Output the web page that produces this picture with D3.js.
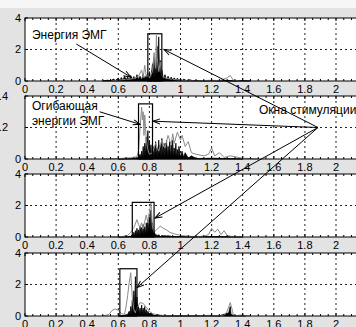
<!DOCTYPE html>
<html>
<head>
<meta charset="utf-8">
<script src="https://cdn.jsdelivr.net/npm/d3@7"></script>
<style>
  body { margin: 0; background: #e3e3e3; overflow: hidden; }
  text { font-family: Arial, "Liberation Sans", sans-serif; fill: #000; }
</style>
</head>
<body>
<svg id="chart" width="356" height="327"></svg>
<script>
// x axis (time, s)
const xTicks = [0, 0.2, 0.4, 0.6, 0.8, 1, 1.2, 1.4, 1.6, 1.8, 2];
const xTickLabels = ['0', '0.2', '0.4', '0.6', '0.8', '1', '1.2', '1.4', '1.6', '1.8', '2'];

// y axes of the four panels
const yMax = [4, 0.4, 4, 4];
const yTicks = [[0, 2, 4], [0, 0.2, 0.4], [0, 2, 4], [0, 2, 4]];
const yTickLabels = [['0', '2', '4'], ['0', '0.2', '0.4'], ['0', '2', '4'], ['0', '2', '4']];

// panel 1: EMG energy
const p1Black = [[0.5,0],[0.53,0.05],[0.55,0.02],[0.57,0.12],[0.58,0.03],[0.6,0.18],[0.61,0.05],[0.62,0.22],[0.63,0.04],[0.64,0.3],[0.65,0.08],[0.66,0.25],[0.67,0.05],[0.68,0.35],[0.69,0.1],[0.7,0.28],[0.71,0.06],[0.72,0.4],[0.73,0.1],[0.74,0.3],[0.75,0.05],[0.76,0.45],[0.77,0.12],[0.78,0.35],[0.79,0.08],[0.8,0.6],[0.81,0.15],[0.82,1.1],[0.825,0.2],[0.83,1.5],[0.835,0.3],[0.84,0.9],[0.845,0.2],[0.85,2.2],[0.855,0.4],[0.86,2.8],[0.865,0.3],[0.87,1.3],[0.875,0.2],[0.88,0.7],[0.89,0.1],[0.9,0.4],[0.91,0.05],[0.92,0.3],[0.93,0.06],[0.94,0.25],[0.95,0.04],[0.96,0.2],[0.97,0.05],[0.98,0.18],[0.99,0.03],[1,0.15],[1.01,0.02],[1.02,0.12],[1.04,0.02],[1.06,0.08],[1.08,0.01],[1.1,0.04],[1.15,0],[1.2,0.03],[1.25,0],[1.3,0.04],[1.35,0],[1.4,0.02],[1.45,0]];
const p1Gray = [[0.55,0],[0.6,0.05],[0.65,0.1],[0.7,0.15],[0.73,0.3],[0.75,0.7],[0.76,0.2],[0.77,1.0],[0.78,0.3],[0.79,0.5],[0.8,0.2],[0.82,0.6],[0.83,1.8],[0.84,0.8],[0.845,2.9],[0.85,1.5],[0.86,0.6],[0.87,1.2],[0.88,0.3],[0.9,0.2],[0.95,0.1],[1,0.05],[1.1,0],[1.2,0.05],[1.25,0.02],[1.3,0.2],[1.32,0.35],[1.34,0.05],[1.38,0]];

// panel 2: EMG energy envelope
const p2Black = [[0.6,0],[0.7,0.003],[0.72,0.01],[0.73,0.005],[0.74,0.03],[0.745,0.005],[0.75,0.05],[0.755,0.01],[0.76,0.08],[0.765,0.01],[0.77,0.1],[0.775,0.02],[0.78,0.14],[0.785,0.03],[0.79,0.18],[0.795,0.04],[0.8,0.12],[0.805,0.02],[0.81,0.09],[0.815,0.01],[0.82,0.06],[0.825,0.01],[0.83,0.08],[0.835,0.01],[0.84,0.11],[0.845,0.02],[0.85,0.07],[0.855,0.01],[0.86,0.12],[0.865,0.02],[0.87,0.09],[0.875,0.01],[0.88,0.13],[0.885,0.02],[0.89,0.08],[0.895,0.01],[0.9,0.1],[0.905,0.02],[0.91,0.12],[0.915,0.01],[0.92,0.08],[0.925,0.02],[0.93,0.11],[0.935,0.01],[0.94,0.09],[0.945,0.02],[0.95,0.12],[0.955,0.01],[0.96,0.07],[0.965,0.02],[0.97,0.1],[0.975,0.01],[0.98,0.06],[0.985,0.01],[0.99,0.08],[1,0.01],[1.01,0.05],[1.02,0.01],[1.03,0.04],[1.05,0.005],[1.07,0.02],[1.1,0.003],[1.2,0.005],[1.3,0.003],[1.4,0]];
const p2Gray = [[0.5,0],[0.6,0.003],[0.68,0.008],[0.72,0.015],[0.73,0.05],[0.74,0.2],[0.75,0.33],[0.755,0.25],[0.76,0.3],[0.765,0.15],[0.77,0.28],[0.78,0.12],[0.79,0.06],[0.8,0.03],[0.82,0.04],[0.84,0.1],[0.86,0.05],[0.88,0.12],[0.9,0.07],[0.92,0.15],[0.94,0.09],[0.95,0.16],[0.96,0.1],[0.98,0.17],[1,0.12],[1.01,0.15],[1.03,0.08],[1.05,0.11],[1.07,0.04],[1.1,0.03],[1.15,0.02],[1.18,0.03],[1.2,0.07],[1.22,0.02],[1.25,0.04],[1.28,0.01],[1.32,0.02],[1.4,0.005],[1.5,0]];

// panel 3
const p3Black = [[0.6,0],[0.66,0.02],[0.68,0.05],[0.69,0.15],[0.695,0.03],[0.7,0.3],[0.705,0.05],[0.71,0.4],[0.715,0.08],[0.72,0.55],[0.725,0.1],[0.73,0.45],[0.735,0.08],[0.74,0.7],[0.745,0.15],[0.75,0.6],[0.755,0.1],[0.76,0.8],[0.765,0.2],[0.77,0.65],[0.775,0.15],[0.78,0.9],[0.785,0.2],[0.79,1.1],[0.795,0.3],[0.8,1.3],[0.805,0.25],[0.81,1.7],[0.815,0.3],[0.82,0.9],[0.825,0.1],[0.83,0.4],[0.835,0.05],[0.84,0.2],[0.85,0.03],[0.86,0.15],[0.87,0.02],[0.88,0.1],[0.9,0.05],[0.92,0.08],[0.95,0.02],[1,0.03],[1.05,0.01],[1.1,0.02],[1.2,0.03],[1.3,0.02],[1.4,0]];
const p3Gray = [[0.55,0],[0.62,0.02],[0.66,0.1],[0.68,0.3],[0.7,0.6],[0.72,1.1],[0.73,0.8],[0.74,0.6],[0.75,0.9],[0.76,0.5],[0.77,1.0],[0.78,1.4],[0.79,0.9],[0.8,1.6],[0.81,2.2],[0.815,1.4],[0.82,0.6],[0.83,0.3],[0.85,0.5],[0.87,0.7],[0.89,0.55],[0.91,0.45],[0.93,0.3],[0.96,0.2],[1,0.1],[1.05,0.05],[1.1,0.03],[1.15,0.05],[1.18,0.15],[1.2,0.55],[1.22,0.3],[1.24,0.5],[1.26,0.15],[1.28,0.4],[1.3,0.1],[1.33,0.03],[1.4,0]];

// panel 4
const p4Black = [[0.6,0],[0.63,0.02],[0.65,0.05],[0.66,0.1],[0.67,0.3],[0.675,0.05],[0.68,0.6],[0.685,0.1],[0.69,1.0],[0.695,0.2],[0.7,1.6],[0.705,0.4],[0.71,2.5],[0.715,0.5],[0.72,1.2],[0.725,0.2],[0.73,0.6],[0.735,0.1],[0.74,0.5],[0.745,0.1],[0.75,0.7],[0.755,0.15],[0.76,0.5],[0.765,0.1],[0.77,0.6],[0.775,0.1],[0.78,0.4],[0.785,0.05],[0.79,0.3],[0.8,0.05],[0.81,0.2],[0.83,0.03],[0.85,0.08],[0.88,0.01],[0.95,0],[1.1,0.02],[1.2,0.04],[1.25,0.01],[1.31,0.2],[1.32,0.6],[1.325,0.1],[1.35,0.02],[1.4,0.05],[1.42,0]];
const p4Gray = [[0.5,0],[0.54,0.1],[0.56,0.35],[0.58,0.45],[0.6,0.35],[0.62,0.15],[0.64,0.1],[0.65,0.6],[0.66,1.3],[0.67,2.1],[0.68,2.75],[0.69,1.2],[0.7,0.4],[0.71,0.2],[0.72,0.5],[0.74,0.85],[0.76,0.8],[0.78,0.55],[0.8,0.3],[0.82,0.15],[0.85,0.08],[0.9,0.02],[0.95,0],[1.2,0.02],[1.28,0.03],[1.3,0.3],[1.32,0.85],[1.335,0.3],[1.34,0.02],[1.4,0.05],[1.45,0]];

const blackTraces = [p1Black, p2Black, p3Black, p4Black];
const grayTraces = [p1Gray, p2Gray, p3Gray, p4Gray];

// stimulation windows
const windowStart = [0.79, 0.73, 0.69, 0.61];
const windowEnd = [0.88, 0.82, 0.83, 0.72];
const windowTop = [3.0, 0.35, 2.2, 3.0];

// annotations: [panel, t, value]
const windowArrowTips = [[0, 0.894, 2.0], [1, 0.823, 0.24], [2, 0.836, 1.2], [3, 0.72, 1.8]];
const hub = [1, 1.884, 0.2];
const windowLabel = [1, 1.505, 0.286, 'Окна стимуляции'];
const energyLabel = [0, 0.045, 2.67, 'Энергия ЭМГ'];
const energyArrow = [[0, 0.33, 2.35], [0, 0.68, 0.25]];
const envelopeLabel = [[1, 0.045, 0.31, 'Огибающая'], [1, 0.045, 0.215, 'энергии ЭМГ']];
const envelopeArrow = [[1, 0.48, 0.3], [1, 0.74, 0.22]];

// layout
const panelTop = [18, 96, 174, 253];
const panelH = 63;
const svg = d3.select('#chart');

svg.append('rect').attr('width', 356).attr('height', 8).attr('fill', '#f6f6f6');

const x = d3.scaleLinear().domain([0, 2.2]).range([25, 25 + 2.2 * 155.5]);
const yScales = [];

const defs = svg.append('defs');
defs.append('marker')
  .attr('id', 'arrow')
  .attr('viewBox', '-8 -4 9 8')
  .attr('refX', 0).attr('refY', 0)
  .attr('markerWidth', 9).attr('markerHeight', 8)
  .attr('markerUnits', 'userSpaceOnUse')
  .attr('orient', 'auto')
  .append('path')
  .attr('d', 'M-7,-2.6L0,0L-7,2.6')
  .attr('fill', 'none')
  .attr('stroke', '#000')
  .attr('stroke-width', 1);

yMax.forEach((ym, i) => {
  const top = panelTop[i];
  const bottom = top + panelH;
  const y = d3.scaleLinear().domain([0, ym]).range([bottom, top]);
  yScales.push(y);
  const g = svg.append('g');

  g.append('rect')
    .attr('x', x(0)).attr('y', top)
    .attr('width', x(2.2) - x(0)).attr('height', panelH)
    .attr('fill', '#fff');

  // dotted grid
  g.selectAll('line.vgrid').data(xTicks.filter((t) => t > 0)).enter().append('line')
    .attr('class', 'vgrid')
    .attr('x1', (d) => x(d)).attr('x2', (d) => x(d))
    .attr('y1', top).attr('y2', bottom)
    .attr('stroke', '#222').attr('stroke-width', 1).attr('stroke-dasharray', '2,3');
  g.selectAll('line.hgrid').data(yTicks[i].filter((t) => t > 0 && t < ym)).enter().append('line')
    .attr('class', 'hgrid')
    .attr('x1', x(0)).attr('x2', x(2.2))
    .attr('y1', (d) => y(d)).attr('y2', (d) => y(d))
    .attr('stroke', '#222').attr('stroke-width', 1).attr('stroke-dasharray', '2,3');

  // traces
  const area = d3.area().x((d) => x(d[0])).y0(y(0)).y1((d) => y(d[1]));
  const line = d3.line().x((d) => x(d[0])).y((d) => y(d[1]));
  g.append('path').datum(blackTraces[i]).attr('d', area)
    .attr('fill', '#000').attr('stroke', '#000').attr('stroke-width', 0.8);
  g.append('path').datum(grayTraces[i]).attr('d', line)
    .attr('fill', 'none').attr('stroke', '#8a8a8a').attr('stroke-width', 1);

  // stimulation window
  g.append('rect')
    .attr('x', x(windowStart[i])).attr('y', y(windowTop[i]))
    .attr('width', x(windowEnd[i]) - x(windowStart[i]))
    .attr('height', y(0) - y(windowTop[i]))
    .attr('fill', 'none').attr('stroke', '#000').attr('stroke-width', 1.2);

  // frame
  g.append('rect')
    .attr('x', x(0)).attr('y', top)
    .attr('width', x(2.2) - x(0)).attr('height', panelH)
    .attr('fill', 'none').attr('stroke', '#000').attr('stroke-width', 1);

  // ticks, minor every 0.05
  const minor = d3.range(0, 44).map((k) => k * 0.05);
  [bottom, top].forEach((yy) => {
    const dir = yy === bottom ? -1 : 1;
    g.selectAll(null).data(minor).enter().append('line')
      .attr('x1', (d) => x(d)).attr('x2', (d) => x(d))
      .attr('y1', yy).attr('y2', (d, k) => yy + dir * (k % 4 === 0 ? 3 : 2))
      .attr('stroke', '#000').attr('stroke-width', 1);
  });
  g.selectAll(null).data(yTicks[i]).enter().append('line')
    .attr('x1', x(0)).attr('x2', x(0) + 3)
    .attr('y1', (d) => y(d)).attr('y2', (d) => y(d))
    .attr('stroke', '#000');

  // tick labels
  g.selectAll(null).data(xTicks).enter().append('text')
    .attr('x', (d) => x(d)).attr('y', bottom + 12)
    .attr('text-anchor', 'middle').attr('font-size', 11)
    .text((d, k) => xTickLabels[k]);
  g.selectAll(null).data(yTicks[i]).enter().append('text')
    .attr('x', (d, k) => (yTickLabels[i][k].length > 1 ? 8 : 21))
    .attr('y', (d) => y(d)).attr('dy', '0.36em')
    .attr('text-anchor', 'end').attr('font-size', 11)
    .text((d, k) => yTickLabels[i][k]);
});

// annotations
const px = (p) => [x(p[1]), yScales[p[0]](p[2])];

function arrow(from, to) {
  const a = px(from);
  const b = px(to);
  svg.append('line')
    .attr('x1', a[0]).attr('y1', a[1]).attr('x2', b[0]).attr('y2', b[1])
    .attr('stroke', '#000').attr('stroke-width', 1)
    .attr('marker-end', 'url(#arrow)');
}

function label(p, size) {
  const pos = px(p);
  svg.append('text').attr('x', pos[0]).attr('y', pos[1])
    .attr('font-size', size).text(p[3]);
}

label(energyLabel, 12);
envelopeLabel.forEach((l) => label(l, 12));
label(windowLabel, 12);

arrow(energyArrow[0], energyArrow[1]);
arrow(envelopeArrow[0], envelopeArrow[1]);
windowArrowTips.forEach((tip) => arrow(hub, tip));
</script>
</body>
</html>
